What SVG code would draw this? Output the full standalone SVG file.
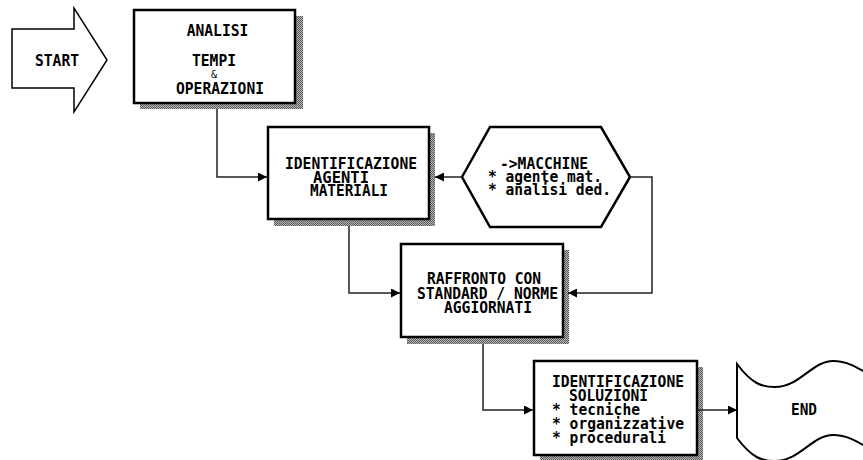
<svg xmlns="http://www.w3.org/2000/svg" width="863" height="460" viewBox="0 0 863 460">
<style>
.bx{fill:#fff;stroke:#000;stroke-width:2.5}
.sh{fill:url(#dots);stroke:none}
.t{font-family:"DejaVu Sans Mono","Liberation Mono",monospace;font-weight:bold;font-size:15px;fill:#000}
.m{text-anchor:middle}
.c{fill:none;stroke:#222;stroke-width:1.5}
</style>
<defs>
<pattern id="dots" width="2" height="2" patternUnits="userSpaceOnUse">
<rect width="2" height="2" fill="#bbb"/>
<rect width="1" height="1" fill="#555"/>
<rect x="1" y="1" width="1" height="1" fill="#555"/>
</pattern>
<marker id="ah" viewBox="0 0 10 10" refX="10" refY="5" markerWidth="9" markerHeight="9" markerUnits="userSpaceOnUse" orient="auto">
<path d="M0,0 L10,5 L0,10 z" fill="#000"/>
</marker>
</defs>
<rect width="863" height="460" fill="#fff"/>

<g id="start">
<path d="M12,29 L74,29 L74,8 L107,60 L74,112 L74,88 L12,88 Z" fill="#fff" stroke="#000" stroke-width="1.5"/>
<text class="t m" x="57" y="66" textLength="44" lengthAdjust="spacingAndGlyphs">START</text>
</g>

<g id="analisi">
<rect class="sh" x="140" y="16" width="163" height="93"/>
<rect class="bx" x="134" y="10" width="161" height="93"/>
<text class="t m" x="217.5" y="36" textLength="61.6" lengthAdjust="spacingAndGlyphs">ANALISI</text>
<text class="t m" x="214" y="66" textLength="44" lengthAdjust="spacingAndGlyphs">TEMPI</text>
<text class="t m" x="214" y="78" style="font-size:10px;font-weight:normal">&amp;</text>
<text class="t m" x="220" y="94" textLength="88" lengthAdjust="spacingAndGlyphs">OPERAZIONI</text>
</g>

<g id="agenti">
<rect class="sh" x="274" y="133" width="161" height="93"/>
<rect class="bx" x="268" y="127" width="161" height="92"/>
<text class="t m" x="351" y="169" textLength="132" lengthAdjust="spacingAndGlyphs">IDENTIFICAZIONE</text>
<text class="t m" x="341" y="182.5" textLength="56" lengthAdjust="spacingAndGlyphs">AGENTI</text>
<text class="t m" x="349" y="196" textLength="78" lengthAdjust="spacingAndGlyphs">MATERIALI</text>
</g>

<g id="macchine">
<polygon points="462,177 490,127 601,127 630,177 601,227 490,227" fill="#fff" stroke="#000" stroke-width="2.5"/>
<text class="t" x="500" y="169" textLength="88" lengthAdjust="spacingAndGlyphs">-&gt;MACCHINE</text>
<text class="t" x="488" y="182" textLength="114" lengthAdjust="spacingAndGlyphs">* agente mat.</text>
<text class="t" x="488" y="195" textLength="123" lengthAdjust="spacingAndGlyphs">* analisi ded.</text>
</g>

<g id="raffronto">
<rect class="sh" x="407" y="250" width="162" height="94"/>
<rect class="bx" x="401" y="244" width="162" height="93"/>
<text class="t m" x="484" y="284" textLength="114" lengthAdjust="spacingAndGlyphs">RAFFRONTO CON</text>
<text class="t m" x="487.5" y="298.5" textLength="141" lengthAdjust="spacingAndGlyphs">STANDARD / NORME</text>
<text class="t m" x="488" y="313" textLength="88" lengthAdjust="spacingAndGlyphs">AGGIORNATI</text>
</g>

<g id="soluzioni">
<rect class="sh" x="540" y="367" width="163" height="94"/>
<rect class="bx" x="534" y="361" width="163" height="94"/>
<text class="t" x="552" y="387" textLength="132" lengthAdjust="spacingAndGlyphs">IDENTIFICAZIONE</text>
<text class="t" x="569" y="401" textLength="79" lengthAdjust="spacingAndGlyphs">SOLUZIONI</text>
<text class="t" x="552" y="415" textLength="88" lengthAdjust="spacingAndGlyphs">* tecniche</text>
<text class="t" x="552" y="429" textLength="132" lengthAdjust="spacingAndGlyphs">* organizzative</text>
<text class="t" x="552" y="443" textLength="114" lengthAdjust="spacingAndGlyphs">* procedurali</text>
</g>

<g id="end">
<path d="M737,364 C752,384 762,387 775,387 C800,387 812,361 833,361 C848,361 858,368 875,378 L875,452 C858,442 848,435 833,435 C812,435 800,461 775,461 C762,461 752,458 737,438 Z" fill="#fff" stroke="#000" stroke-width="2"/>
<text class="t m" x="804" y="415" textLength="26" lengthAdjust="spacingAndGlyphs">END</text>
</g>

<g id="connectors">
<path class="c" d="M217,109 V177 H267" marker-end="url(#ah)"/>
<path class="c" d="M462,177 H435" marker-end="url(#ah)"/>
<path class="c" d="M349,226 V293 H400" marker-end="url(#ah)"/>
<path class="c" d="M630,177 H652 V293 H568" marker-end="url(#ah)"/>
<path class="c" d="M483,344 V410 H533" marker-end="url(#ah)"/>
<path class="c" d="M697,410 H737" marker-end="url(#ah)"/>
</g>
</svg>
